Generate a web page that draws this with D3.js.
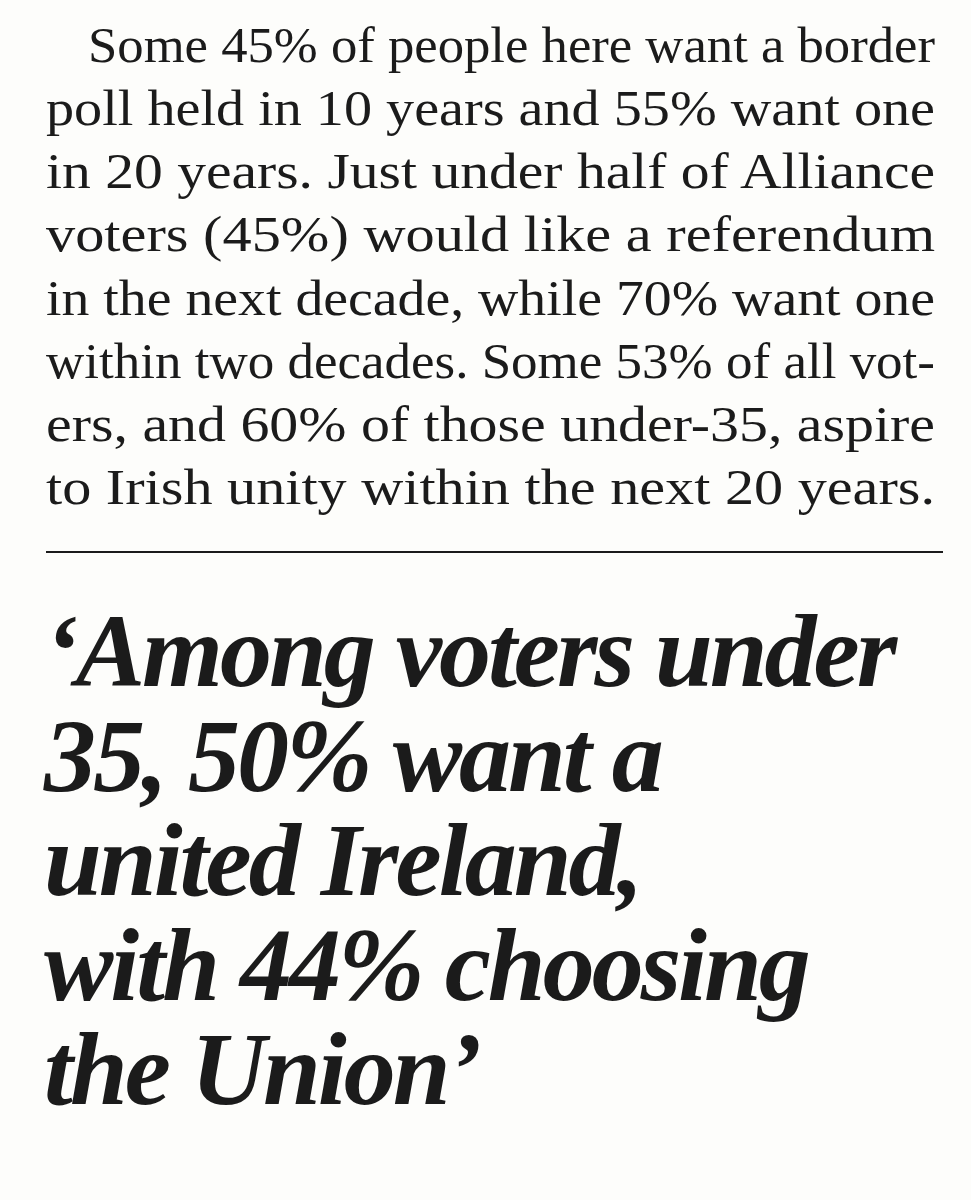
<!DOCTYPE html>
<html><head><meta charset="utf-8">
<script src="https://cdn.jsdelivr.net/npm/d3@7"></script>
<style>body{margin:0;background:#fdfdfb}</style>
</head><body>
<script>
// paragraph lines as laid out in the clipping
const bodyLines = [
  "Some 45% of people here want a border",
  "poll held in 10 years and 55% want one",
  "in 20 years. Just under half of Alliance",
  "voters (45%) would like a referendum",
  "in the next decade, while 70% want one",
  "within two decades. Some 53% of all vot-",
  "ers, and 60% of those under-35, aspire",
  "to Irish unity within the next 20 years."
];
const quoteLines = [
  "\u2018Among voters under",
  "35, 50% want a",
  "united Ireland,",
  "with 44% choosing",
  "the Union\u2019"
];

const W = 971, H = 1200;
const svg = d3.select("body").append("svg").attr("width", W).attr("height", H);
svg.append("rect").attr("width", W).attr("height", H).attr("fill", "#fdfdfb");

const yBody = d3.scaleLinear().domain([0, bodyLines.length - 1]).range([62, 504]);
svg.selectAll("text.body").data(bodyLines).join("text")
  .attr("class", "body")
  .attr("x", (d, i) => i === 0 ? 88 : 46)
  .attr("y", (d, i) => yBody(i))
  .attr("font-family", "Liberation Serif, DejaVu Serif, serif")
  .attr("font-size", 51)
  .attr("fill", "#1b1b1b")
  .attr("textLength", (d, i) => i === 0 ? 847 : 889)
  .attr("lengthAdjust", "spacingAndGlyphs")
  .text(d => d);

svg.append("line").attr("x1", 46).attr("x2", 943).attr("y1", 552).attr("y2", 552)
  .attr("stroke", "#1b1b1b").attr("stroke-width", 2);

const yQuote = d3.scaleLinear().domain([0, quoteLines.length - 1]).range([686, 1104]);
svg.selectAll("text.quote").data(quoteLines).join("text")
  .attr("class", "quote")
  .attr("x", 44)
  .attr("y", (d, i) => yQuote(i))
  .attr("font-family", "Liberation Serif, DejaVu Serif, serif")
  .attr("font-style", "italic")
  .attr("font-weight", "bold")
  .attr("font-size", 104)
  .attr("letter-spacing", -3)
  .attr("fill", "#1b1b1b")
  .text(d => d);
</script>
</body></html>
